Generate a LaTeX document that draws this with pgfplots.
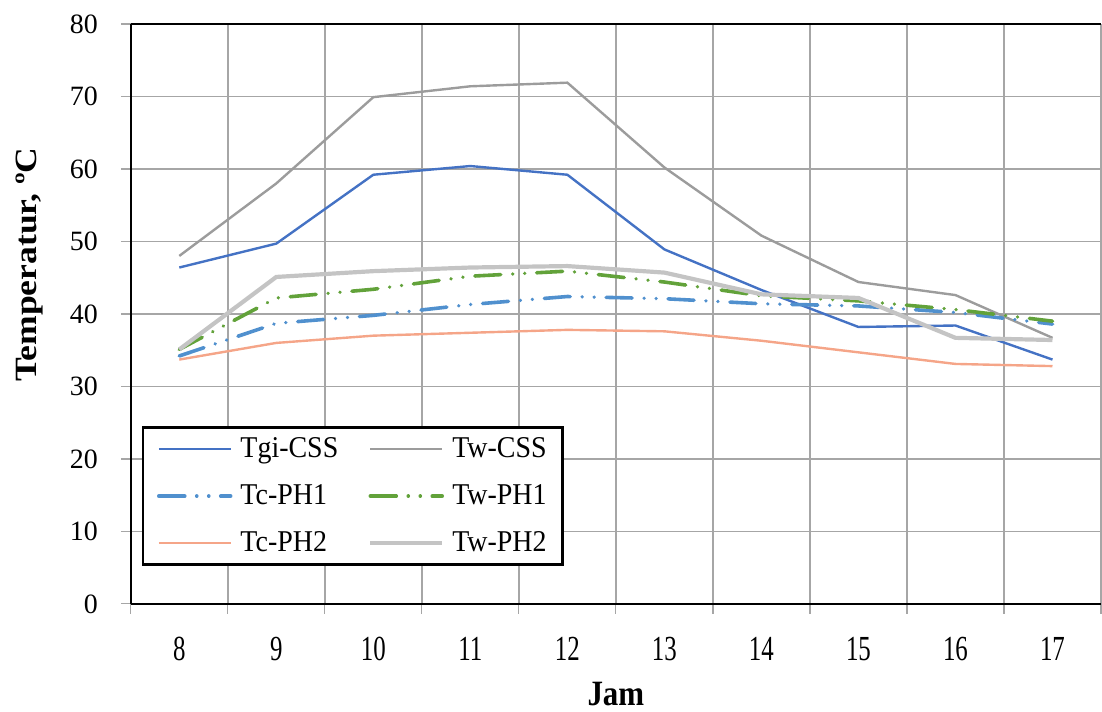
\documentclass[border=0pt]{standalone}
\usepackage{fontspec}
\setmainfont{Liberation Serif}
\usepackage{pgfplots}
\pgfplotsset{compat=1.18}

\definecolor{cssblue}{HTML}{4472C4}
\definecolor{cssgray}{HTML}{9C9C9C}
\definecolor{ph1blue}{HTML}{5090CE}
\definecolor{ph1green}{HTML}{62A23A}
\definecolor{ph2salmon}{HTML}{F5A588}
\definecolor{ph2gray}{HTML}{C4C4C4}
\definecolor{gridgray}{HTML}{A6A6A6}

% the original chart was stretched vertically: mimic with scaleboxes
\newcommand\xs[1]{\scalebox{0.89}[1.26]{#1}}
\newcommand\ls[1]{\scalebox{1}[1.08]{#1}}

\tikzset{ddot/.style={dash pattern=on 13pt off 6pt on 0.01pt off 6pt on 0.01pt off 6pt, line cap=round}}

\begin{document}
\begin{tikzpicture}
\begin{axis}[
  scale only axis,
  width=486pt, height=290.5pt,
  xmin=7.5, xmax=17.5,
  ymin=0, ymax=80,
  xtick={7.5,8.5,...,17.5},
  x tick label as interval,
  xticklabels={\xs{8},\xs{9},\xs{10},\xs{11},\xs{12},\xs{13},\xs{14},\xs{15},\xs{16},\xs{17}},
  ytick={0,10,...,80},
  axis lines=left,
  axis line style={line width=1.1pt, -},
  tick align=outside,
  major tick length=5pt,
  every tick/.style={gridgray, line width=0.6pt},
  grid=major,
  grid style={gridgray, line width=0.75pt},
  font=\fontsize{14}{16}\selectfont,
  /pgf/number format/assume math mode=true,
  x tick label style={yshift=-8pt},
  y tick label style={xshift=-8pt},
  every axis y label/.style={at={(rel axis cs:-0.1039,0.585)}, rotate=90, anchor=center},
  every axis x label/.style={at={(rel axis cs:0.5,-0.155)}, anchor=center},
  ylabel={\scalebox{1.15}[1]{\fontsize{15.5}{17}\selectfont\bfseries Temperatur, ºC}},
  xlabel={\scalebox{1}[1.15]{\fontsize{15.5}{17}\selectfont\bfseries Jam}},
  legend columns=2,
  legend cell align=left,
  legend image code/.code={\draw[#1] (0pt,0pt) -- (36pt,0pt);},
  legend style={at={(rel axis cs:0.0113,0.306)}, anchor=north west,
    draw=black, line width=1.3pt, inner xsep=7pt, inner ysep=3pt,
    row sep=8pt,
    nodes={inner xsep=1pt, inner ysep=2pt},
    /tikz/every even column/.append style={column sep=14pt},
    /tikz/every odd column/.append style={column sep=3pt},
    font=\fontsize{14}{16}\selectfont},
]
\addplot[cssblue, line width=1.2pt] coordinates {
(8,46.4)(9,49.7)(10,59.2)(11,60.4)(12,59.2)(13,48.9)(14,43.3)(15,38.2)(16,38.4)(17,33.7)};
\addlegendentry{\ls{Tgi-CSS}}
\addplot[cssgray, line width=1.2pt] coordinates {
(8,48.0)(9,58.0)(10,69.9)(11,71.4)(12,71.9)(13,60.2)(14,50.8)(15,44.4)(16,42.6)(17,36.7)};
\addlegendentry{\ls{Tw-CSS}}
\addplot[ph1blue, line width=1.8pt, ddot] coordinates {
(8,34.2)(9,38.7)(10,39.8)(11,41.3)(12,42.4)(13,42.1)(14,41.4)(15,41.1)(16,40.2)(17,38.6)};
\addlegendentry{\ls{Tc-PH1}}
\addplot[ph1green, line width=1.8pt, ddot] coordinates {
(8,35.1)(9,42.2)(10,43.4)(11,45.2)(12,45.9)(13,44.4)(14,42.5)(15,41.8)(16,40.6)(17,39.0)};
\addlegendentry{\ls{Tw-PH1}}
\addplot[ph2salmon, line width=1.2pt] coordinates {
(8,33.7)(9,36.0)(10,37.0)(11,37.4)(12,37.8)(13,37.6)(14,36.3)(15,34.7)(16,33.1)(17,32.8)};
\addlegendentry{\ls{Tc-PH2}}
\addplot[ph2gray, line width=2.1pt] coordinates {
(8,35.1)(9,45.1)(10,45.9)(11,46.4)(12,46.6)(13,45.7)(14,42.7)(15,42.2)(16,36.7)(17,36.4)};
\addlegendentry{\ls{Tw-PH2}}
\draw[black, line width=1.4pt] (rel axis cs:0,1) -- (rel axis cs:1,1);
\coordinate (bl) at (rel axis cs:0,0);
\coordinate (tr) at (rel axis cs:1,1);
\end{axis}
\pgfresetboundingbox
\path ([xshift=-65.5pt,yshift=-54pt]bl) rectangle ([xshift=0.5pt,yshift=12pt]tr);
\end{tikzpicture}
\end{document}
